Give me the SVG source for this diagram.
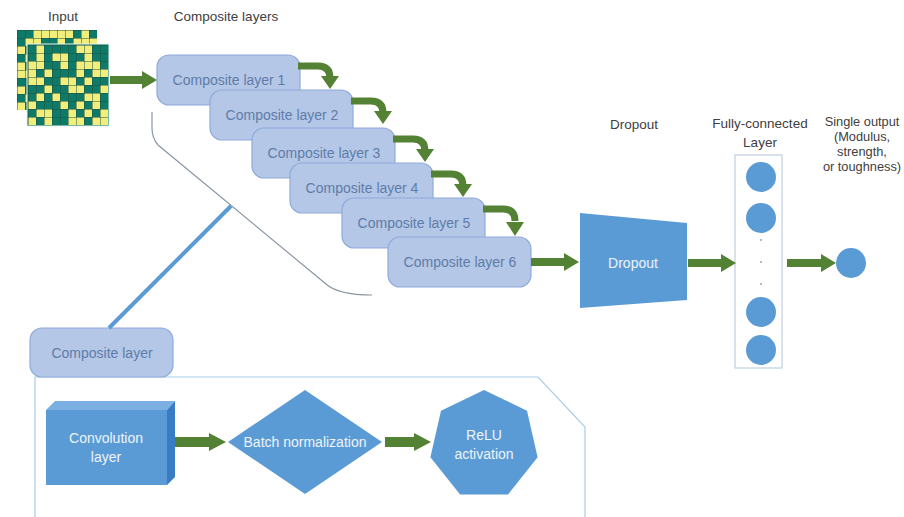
<svg xmlns="http://www.w3.org/2000/svg" width="904" height="517" viewBox="0 0 904 517">
<defs>
<style>
.title{font-family:"Liberation Sans",Arial,sans-serif;font-size:13.5px;fill:#404040;text-anchor:middle}
.out{font-size:12.8px}
.cl rect{fill:#b4c7e7;stroke:#8faadc;stroke-width:1.2}
.cl text{font-family:"Liberation Sans",Arial,sans-serif;font-size:14px;fill:#5f7ca8;text-anchor:middle}
.wt{font-family:"Liberation Sans",Arial,sans-serif;font-size:14px;fill:#eef4fb;text-anchor:middle}
.blue{fill:#5b9bd5}
.arr{fill:#548235}
.carr{fill:none;stroke:#548235;stroke-width:7}
.ye{fill:#f2ee7c}
</style>
<pattern id="gl" width="8" height="8" patternUnits="userSpaceOnUse">
<path d="M0,0 H8 M0,0 V8" stroke="#1d4f40" stroke-width="1" fill="none"/>
</pattern>
</defs>

<rect width="904" height="517" fill="#ffffff"/>

<!-- titles -->
<text class="title" x="63" y="21">Input</text>
<text class="title" x="226" y="21">Composite layers</text>
<text class="title" x="634" y="129">Dropout</text>
<text class="title" x="760" y="128">Fully-connected</text>
<text class="title" x="760" y="147">Layer</text>
<text class="title out" x="862" y="126">Single output</text>
<text class="title out" x="862" y="141">(Modulus,</text>
<text class="title out" x="862" y="156">strength,</text>
<text class="title out" x="862" y="171">or toughness)</text>

<!-- input grids -->
<g id="input">
<g transform="translate(17,30)">
<rect width="80" height="80" fill="#0e7a68"/>
<g class="ye">
<rect x="16" y="0" width="8" height="8"/><rect x="24" y="0" width="8" height="8"/><rect x="32" y="0" width="8" height="8"/><rect x="40" y="0" width="8" height="8"/><rect x="48" y="0" width="8" height="8"/><rect x="64" y="0" width="8" height="8"/>
<rect x="8" y="8" width="8" height="8"/><rect x="16" y="8" width="8" height="8"/><rect x="40" y="8" width="8" height="8"/><rect x="56" y="8" width="8" height="8"/><rect x="64" y="8" width="8" height="8"/><rect x="72" y="8" width="8" height="8"/>
<rect x="0" y="16" width="8" height="8"/>
<rect x="8" y="24" width="8" height="8"/>
<rect x="0" y="32" width="8" height="8"/>
<rect x="0" y="40" width="8" height="8"/><rect x="8" y="40" width="8" height="8"/>
<rect x="0" y="56" width="8" height="8"/>
<rect x="8" y="64" width="8" height="8"/>
<rect x="0" y="72" width="8" height="8"/>
</g>
<rect width="80" height="80" fill="url(#gl)"/>
</g>
<g transform="translate(28,45)">
<rect x="-1" y="-1" width="82" height="82" fill="#0e7a68" stroke="#e8f2ee" stroke-width="1"/>
<g class="ye">
<rect x="8" y="0" width="8" height="8"/><rect x="48" y="0" width="8" height="8"/><rect x="56" y="0" width="8" height="8"/>
<rect x="8" y="8" width="8" height="8"/><rect x="24" y="8" width="8" height="8"/><rect x="32" y="8" width="8" height="8"/><rect x="56" y="8" width="8" height="8"/>
<rect x="0" y="16" width="8" height="8"/><rect x="8" y="16" width="8" height="8"/><rect x="32" y="16" width="8" height="8"/><rect x="48" y="16" width="8" height="8"/><rect x="56" y="16" width="8" height="8"/><rect x="64" y="16" width="8" height="8"/>
<rect x="0" y="24" width="8" height="8"/><rect x="16" y="24" width="8" height="8"/><rect x="48" y="24" width="8" height="8"/><rect x="64" y="24" width="8" height="8"/><rect x="72" y="24" width="8" height="8"/>
<rect x="0" y="32" width="8" height="8"/><rect x="8" y="32" width="8" height="8"/><rect x="32" y="32" width="8" height="8"/><rect x="40" y="32" width="8" height="8"/><rect x="56" y="32" width="8" height="8"/>
<rect x="16" y="40" width="8" height="8"/><rect x="40" y="40" width="8" height="8"/><rect x="48" y="40" width="8" height="8"/><rect x="72" y="40" width="8" height="8"/>
<rect x="8" y="48" width="8" height="8"/><rect x="24" y="48" width="8" height="8"/><rect x="56" y="48" width="8" height="8"/><rect x="64" y="48" width="8" height="8"/>
<rect x="0" y="56" width="8" height="8"/><rect x="32" y="56" width="8" height="8"/><rect x="48" y="56" width="8" height="8"/><rect x="64" y="56" width="8" height="8"/>
<rect x="8" y="64" width="8" height="8"/><rect x="16" y="64" width="8" height="8"/><rect x="40" y="64" width="8" height="8"/><rect x="56" y="64" width="8" height="8"/><rect x="72" y="64" width="8" height="8"/>
<rect x="0" y="72" width="8" height="8"/><rect x="16" y="72" width="8" height="8"/><rect x="40" y="72" width="8" height="8"/><rect x="48" y="72" width="8" height="8"/><rect x="64" y="72" width="8" height="8"/><rect x="72" y="72" width="8" height="8"/>
</g>
<rect width="80" height="80" fill="url(#gl)"/>
</g>
</g>

<!-- bracket and container -->
<g id="bracket">
<path d="M152,112 L152,128 Q152,138 158,145 L326,284 Q338,295 372,295" fill="none" stroke="#8a96a3" stroke-width="1.2"/>
</g>
<g id="container">
<path d="M35,517 V377 H538 L585,427 V517" fill="none" stroke="#a9cdea" stroke-width="1.2"/>
</g>

<!-- composite layers -->
<g id="cl1" class="cl"><rect x="157" y="55" width="143" height="50" rx="12"/><text x="229" y="85">Composite layer 1</text></g>
<g id="cl2" class="cl"><rect x="210" y="90" width="143" height="50" rx="12"/><text x="282" y="120">Composite layer 2</text></g>
<g id="cl3" class="cl"><rect x="252" y="128" width="143" height="50" rx="12"/><text x="324" y="158">Composite layer 3</text></g>
<g id="cl4" class="cl"><rect x="290" y="163" width="143" height="50" rx="12"/><text x="362" y="193">Composite layer 4</text></g>
<g id="cl5" class="cl"><rect x="342" y="198" width="143" height="50" rx="12"/><text x="414" y="228">Composite layer 5</text></g>
<g id="cl6" class="cl"><rect x="388" y="237" width="143" height="50" rx="12"/><text x="460" y="267">Composite layer 6</text></g>
<g id="clb" class="cl"><rect x="30" y="328" width="143" height="49" rx="12"/><text x="102" y="358">Composite layer</text></g>

<!-- dropout -->
<g id="dropout">
<polygon class="blue" points="580,213 687,223 687,300 580,308"/>
<text class="wt" x="633" y="268">Dropout</text>
</g>

<!-- fully connected -->
<g id="fc">
<rect x="735" y="155" width="47" height="213" fill="none" stroke="#b4c4d6" stroke-width="1"/>
<circle class="blue" cx="761" cy="177" r="15"/>
<circle class="blue" cx="761" cy="218" r="15"/>
<circle cx="761" cy="240" r="1" fill="#9aa5b0"/>
<circle cx="761" cy="262" r="1" fill="#9aa5b0"/>
<circle cx="761" cy="284" r="1" fill="#9aa5b0"/>
<circle class="blue" cx="761" cy="312" r="15"/>
<circle class="blue" cx="761" cy="350" r="15"/>
</g>

<g id="output"><circle class="blue" cx="851" cy="263" r="15"/></g>

<!-- bottom detail -->
<g id="conv">
<polygon points="46,410 55,401 175,401 167,410" fill="#7db0e2"/>
<polygon points="167,410 175,401 175,477 167,485" fill="#3a7cc4"/>
<rect class="blue" x="46" y="410" width="121" height="75"/>
<text class="wt" x="106" y="443">Convolution</text>
<text class="wt" x="106" y="462">layer</text>
</g>
<g id="bn">
<polygon class="blue" points="228,442 305,390 382,442 305,494"/>
<text class="wt" x="305" y="447">Batch normalization</text>
</g>
<g id="relu">
<polygon class="blue" points="484,390 527,410.7 537.6,457.2 507.9,494.6 460.1,494.6 430.4,457.2 441,410.7"/>
<text class="wt" x="484" y="440">ReLU</text>
<text class="wt" x="484" y="459">activation</text>
</g>

<!-- connectors -->
<g id="connectors">
<line x1="231" y1="206" x2="109" y2="328" stroke="#5b9bd5" stroke-width="4"/>
<path class="arr" d="M110,76 H142 V71 L157,80 L142,89 V84 H110 Z"/>
<path class="carr" d="M298,66 H318 Q330,66 330,78"/>
<polygon class="arr" points="321,76 339,76 330,89"/>
<path class="carr" d="M351,101 H371 Q383,101 383,113"/>
<polygon class="arr" points="374,111 392,111 383,124"/>
<path class="carr" d="M393,139 H413 Q425,139 425,151"/>
<polygon class="arr" points="416,149 434,149 425,162"/>
<path class="carr" d="M431,174 H451 Q463,174 463,186"/>
<polygon class="arr" points="454,184 472,184 463,197"/>
<path class="carr" d="M483,209 H503 Q515,209 515,221"/>
<polygon class="arr" points="506,222 524,222 515,236"/>
<path class="arr" d="M531,258 H564 V253 L579,262 L564,271 V266 H531 Z"/>
<path class="arr" d="M688,259 H721 V254 L736,263 L721,272 V267 H688 Z"/>
<path class="arr" d="M787,259 H821 V254 L836,263 L821,272 V267 H787 Z"/>
<path class="arr" d="M175,437 H209 V433 L226,442 L209,451 V447 H175 Z"/>
<path class="arr" d="M385,437 H414 V433 L431,442 L414,451 V447 H385 Z"/>
</g>
</svg>
